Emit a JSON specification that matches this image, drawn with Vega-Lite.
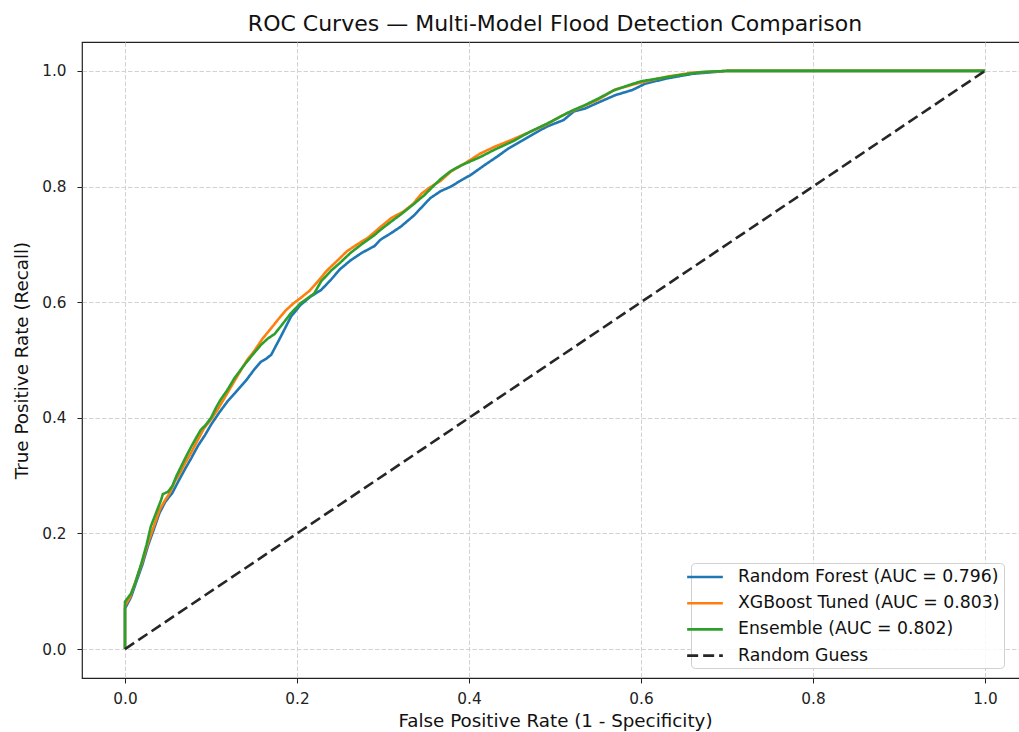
{
 "$schema": "https://vega.github.io/schema/vega-lite/v6.json",
 "autosize": {"type": "none"},
 "padding": {"left": 82, "top": 42, "right": 0, "bottom": 54},
 "width": 946,
 "height": 636,
 "background": "white",
 "title": {"text": "ROC Curves — Multi-Model Flood Detection Comparison", "fontSize": 22, "fontWeight": "normal", "font": "DejaVu Sans", "color": "#111", "frame": "group", "anchor": "middle", "offset": 6},
 "config": {
  "view": {"stroke": "#222", "strokeWidth": 1.2},
  "axis": {"domain": false, "grid": true, "gridColor": "#d2d2d2", "gridDash": [4.5, 2], "gridWidth": 1, "tickColor": "#222", "tickSize": 5, "labelFont": "DejaVu Sans", "labelFontSize": 15.3, "labelColor": "#222", "titleFont": "DejaVu Sans", "titleFontSize": 18.3, "titleFontWeight": "normal", "titleColor": "#111"},
  "axisX": {"labelPadding": 8, "titlePadding": 6},
  "axisY": {"labelPadding": 11, "titlePadding": 10},
  "legend": {"orient": "none", "legendX": 609, "legendY": 521, "fillColor": "rgba(255,255,255,0.85)", "strokeColor": "#d0d0d0", "cornerRadius": 4, "padding": 4, "labelFont": "DejaVu Sans", "labelFontSize": 17.3, "labelColor": "#111", "symbolType": "M-2.1,0H2.1", "symbolSize": 289, "symbolStrokeWidth": 2.6, "rowPadding": 7.2, "labelOffset": 23, "labelLimit": 400, "title": null}
 },
 "data": {"values": [
  {"model": "Random Forest (AUC = 0.796)", "fpr": 0, "tpr": 0},
  {"model": "Random Forest (AUC = 0.796)", "fpr": 0, "tpr": 0.07},
  {"model": "Random Forest (AUC = 0.796)", "fpr": 0.007, "tpr": 0.09},
  {"model": "Random Forest (AUC = 0.796)", "fpr": 0.014, "tpr": 0.12},
  {"model": "Random Forest (AUC = 0.796)", "fpr": 0.02, "tpr": 0.145},
  {"model": "Random Forest (AUC = 0.796)", "fpr": 0.027, "tpr": 0.18},
  {"model": "Random Forest (AUC = 0.796)", "fpr": 0.033, "tpr": 0.205},
  {"model": "Random Forest (AUC = 0.796)", "fpr": 0.04, "tpr": 0.235},
  {"model": "Random Forest (AUC = 0.796)", "fpr": 0.047, "tpr": 0.255},
  {"model": "Random Forest (AUC = 0.796)", "fpr": 0.055, "tpr": 0.27},
  {"model": "Random Forest (AUC = 0.796)", "fpr": 0.062, "tpr": 0.29},
  {"model": "Random Forest (AUC = 0.796)", "fpr": 0.07, "tpr": 0.312},
  {"model": "Random Forest (AUC = 0.796)", "fpr": 0.077, "tpr": 0.33},
  {"model": "Random Forest (AUC = 0.796)", "fpr": 0.085, "tpr": 0.352},
  {"model": "Random Forest (AUC = 0.796)", "fpr": 0.093, "tpr": 0.37},
  {"model": "Random Forest (AUC = 0.796)", "fpr": 0.1, "tpr": 0.388},
  {"model": "Random Forest (AUC = 0.796)", "fpr": 0.11, "tpr": 0.41},
  {"model": "Random Forest (AUC = 0.796)", "fpr": 0.12, "tpr": 0.43},
  {"model": "Random Forest (AUC = 0.796)", "fpr": 0.128, "tpr": 0.443},
  {"model": "Random Forest (AUC = 0.796)", "fpr": 0.135, "tpr": 0.455},
  {"model": "Random Forest (AUC = 0.796)", "fpr": 0.141, "tpr": 0.465},
  {"model": "Random Forest (AUC = 0.796)", "fpr": 0.15, "tpr": 0.483},
  {"model": "Random Forest (AUC = 0.796)", "fpr": 0.158, "tpr": 0.497},
  {"model": "Random Forest (AUC = 0.796)", "fpr": 0.164, "tpr": 0.502},
  {"model": "Random Forest (AUC = 0.796)", "fpr": 0.17, "tpr": 0.509},
  {"model": "Random Forest (AUC = 0.796)", "fpr": 0.181, "tpr": 0.54},
  {"model": "Random Forest (AUC = 0.796)", "fpr": 0.193, "tpr": 0.575},
  {"model": "Random Forest (AUC = 0.796)", "fpr": 0.204, "tpr": 0.595},
  {"model": "Random Forest (AUC = 0.796)", "fpr": 0.216, "tpr": 0.61},
  {"model": "Random Forest (AUC = 0.796)", "fpr": 0.228, "tpr": 0.621},
  {"model": "Random Forest (AUC = 0.796)", "fpr": 0.239, "tpr": 0.638},
  {"model": "Random Forest (AUC = 0.796)", "fpr": 0.25, "tpr": 0.657},
  {"model": "Random Forest (AUC = 0.796)", "fpr": 0.262, "tpr": 0.672},
  {"model": "Random Forest (AUC = 0.796)", "fpr": 0.275, "tpr": 0.685},
  {"model": "Random Forest (AUC = 0.796)", "fpr": 0.29, "tpr": 0.697},
  {"model": "Random Forest (AUC = 0.796)", "fpr": 0.297, "tpr": 0.708},
  {"model": "Random Forest (AUC = 0.796)", "fpr": 0.31, "tpr": 0.72},
  {"model": "Random Forest (AUC = 0.796)", "fpr": 0.321, "tpr": 0.731},
  {"model": "Random Forest (AUC = 0.796)", "fpr": 0.336, "tpr": 0.75},
  {"model": "Random Forest (AUC = 0.796)", "fpr": 0.355, "tpr": 0.78},
  {"model": "Random Forest (AUC = 0.796)", "fpr": 0.367, "tpr": 0.792},
  {"model": "Random Forest (AUC = 0.796)", "fpr": 0.379, "tpr": 0.8},
  {"model": "Random Forest (AUC = 0.796)", "fpr": 0.39, "tpr": 0.81},
  {"model": "Random Forest (AUC = 0.796)", "fpr": 0.402, "tpr": 0.82},
  {"model": "Random Forest (AUC = 0.796)", "fpr": 0.418, "tpr": 0.837},
  {"model": "Random Forest (AUC = 0.796)", "fpr": 0.433, "tpr": 0.852},
  {"model": "Random Forest (AUC = 0.796)", "fpr": 0.446, "tpr": 0.866},
  {"model": "Random Forest (AUC = 0.796)", "fpr": 0.46, "tpr": 0.878},
  {"model": "Random Forest (AUC = 0.796)", "fpr": 0.475, "tpr": 0.891},
  {"model": "Random Forest (AUC = 0.796)", "fpr": 0.491, "tpr": 0.904},
  {"model": "Random Forest (AUC = 0.796)", "fpr": 0.51, "tpr": 0.915},
  {"model": "Random Forest (AUC = 0.796)", "fpr": 0.522, "tpr": 0.93},
  {"model": "Random Forest (AUC = 0.796)", "fpr": 0.535, "tpr": 0.935},
  {"model": "Random Forest (AUC = 0.796)", "fpr": 0.55, "tpr": 0.945},
  {"model": "Random Forest (AUC = 0.796)", "fpr": 0.57, "tpr": 0.958},
  {"model": "Random Forest (AUC = 0.796)", "fpr": 0.59, "tpr": 0.967},
  {"model": "Random Forest (AUC = 0.796)", "fpr": 0.605, "tpr": 0.978},
  {"model": "Random Forest (AUC = 0.796)", "fpr": 0.63, "tpr": 0.987},
  {"model": "Random Forest (AUC = 0.796)", "fpr": 0.66, "tpr": 0.995},
  {"model": "Random Forest (AUC = 0.796)", "fpr": 0.7, "tpr": 1.0},
  {"model": "Random Forest (AUC = 0.796)", "fpr": 1.0, "tpr": 1.0},

  {"model": "XGBoost Tuned (AUC = 0.803)", "fpr": 0, "tpr": 0},
  {"model": "XGBoost Tuned (AUC = 0.803)", "fpr": 0, "tpr": 0.075},
  {"model": "XGBoost Tuned (AUC = 0.803)", "fpr": 0.006, "tpr": 0.09},
  {"model": "XGBoost Tuned (AUC = 0.803)", "fpr": 0.013, "tpr": 0.12},
  {"model": "XGBoost Tuned (AUC = 0.803)", "fpr": 0.02, "tpr": 0.15},
  {"model": "XGBoost Tuned (AUC = 0.803)", "fpr": 0.027, "tpr": 0.185},
  {"model": "XGBoost Tuned (AUC = 0.803)", "fpr": 0.033, "tpr": 0.21},
  {"model": "XGBoost Tuned (AUC = 0.803)", "fpr": 0.04, "tpr": 0.24},
  {"model": "XGBoost Tuned (AUC = 0.803)", "fpr": 0.046, "tpr": 0.256},
  {"model": "XGBoost Tuned (AUC = 0.803)", "fpr": 0.052, "tpr": 0.27},
  {"model": "XGBoost Tuned (AUC = 0.803)", "fpr": 0.058, "tpr": 0.29},
  {"model": "XGBoost Tuned (AUC = 0.803)", "fpr": 0.064, "tpr": 0.305},
  {"model": "XGBoost Tuned (AUC = 0.803)", "fpr": 0.07, "tpr": 0.322},
  {"model": "XGBoost Tuned (AUC = 0.803)", "fpr": 0.077, "tpr": 0.34},
  {"model": "XGBoost Tuned (AUC = 0.803)", "fpr": 0.084, "tpr": 0.36},
  {"model": "XGBoost Tuned (AUC = 0.803)", "fpr": 0.092, "tpr": 0.382},
  {"model": "XGBoost Tuned (AUC = 0.803)", "fpr": 0.1, "tpr": 0.397},
  {"model": "XGBoost Tuned (AUC = 0.803)", "fpr": 0.108, "tpr": 0.415},
  {"model": "XGBoost Tuned (AUC = 0.803)", "fpr": 0.116, "tpr": 0.435},
  {"model": "XGBoost Tuned (AUC = 0.803)", "fpr": 0.125, "tpr": 0.458},
  {"model": "XGBoost Tuned (AUC = 0.803)", "fpr": 0.133, "tpr": 0.478},
  {"model": "XGBoost Tuned (AUC = 0.803)", "fpr": 0.142, "tpr": 0.5},
  {"model": "XGBoost Tuned (AUC = 0.803)", "fpr": 0.15, "tpr": 0.515},
  {"model": "XGBoost Tuned (AUC = 0.803)", "fpr": 0.16, "tpr": 0.537},
  {"model": "XGBoost Tuned (AUC = 0.803)", "fpr": 0.17, "tpr": 0.555},
  {"model": "XGBoost Tuned (AUC = 0.803)", "fpr": 0.178, "tpr": 0.57},
  {"model": "XGBoost Tuned (AUC = 0.803)", "fpr": 0.187, "tpr": 0.586},
  {"model": "XGBoost Tuned (AUC = 0.803)", "fpr": 0.196, "tpr": 0.598},
  {"model": "XGBoost Tuned (AUC = 0.803)", "fpr": 0.204, "tpr": 0.607},
  {"model": "XGBoost Tuned (AUC = 0.803)", "fpr": 0.214, "tpr": 0.619},
  {"model": "XGBoost Tuned (AUC = 0.803)", "fpr": 0.222, "tpr": 0.632},
  {"model": "XGBoost Tuned (AUC = 0.803)", "fpr": 0.235, "tpr": 0.655},
  {"model": "XGBoost Tuned (AUC = 0.803)", "fpr": 0.247, "tpr": 0.672},
  {"model": "XGBoost Tuned (AUC = 0.803)", "fpr": 0.258, "tpr": 0.688},
  {"model": "XGBoost Tuned (AUC = 0.803)", "fpr": 0.27, "tpr": 0.7},
  {"model": "XGBoost Tuned (AUC = 0.803)", "fpr": 0.283, "tpr": 0.712},
  {"model": "XGBoost Tuned (AUC = 0.803)", "fpr": 0.297, "tpr": 0.73},
  {"model": "XGBoost Tuned (AUC = 0.803)", "fpr": 0.31, "tpr": 0.746},
  {"model": "XGBoost Tuned (AUC = 0.803)", "fpr": 0.323, "tpr": 0.756},
  {"model": "XGBoost Tuned (AUC = 0.803)", "fpr": 0.335, "tpr": 0.77},
  {"model": "XGBoost Tuned (AUC = 0.803)", "fpr": 0.345, "tpr": 0.788},
  {"model": "XGBoost Tuned (AUC = 0.803)", "fpr": 0.355, "tpr": 0.799},
  {"model": "XGBoost Tuned (AUC = 0.803)", "fpr": 0.367, "tpr": 0.81},
  {"model": "XGBoost Tuned (AUC = 0.803)", "fpr": 0.379, "tpr": 0.826},
  {"model": "XGBoost Tuned (AUC = 0.803)", "fpr": 0.395, "tpr": 0.84},
  {"model": "XGBoost Tuned (AUC = 0.803)", "fpr": 0.413, "tpr": 0.857},
  {"model": "XGBoost Tuned (AUC = 0.803)", "fpr": 0.43, "tpr": 0.869},
  {"model": "XGBoost Tuned (AUC = 0.803)", "fpr": 0.45, "tpr": 0.881},
  {"model": "XGBoost Tuned (AUC = 0.803)", "fpr": 0.47, "tpr": 0.894},
  {"model": "XGBoost Tuned (AUC = 0.803)", "fpr": 0.49, "tpr": 0.907},
  {"model": "XGBoost Tuned (AUC = 0.803)", "fpr": 0.51, "tpr": 0.924},
  {"model": "XGBoost Tuned (AUC = 0.803)", "fpr": 0.53, "tpr": 0.937},
  {"model": "XGBoost Tuned (AUC = 0.803)", "fpr": 0.55, "tpr": 0.95},
  {"model": "XGBoost Tuned (AUC = 0.803)", "fpr": 0.57, "tpr": 0.968},
  {"model": "XGBoost Tuned (AUC = 0.803)", "fpr": 0.6, "tpr": 0.98},
  {"model": "XGBoost Tuned (AUC = 0.803)", "fpr": 0.63, "tpr": 0.99},
  {"model": "XGBoost Tuned (AUC = 0.803)", "fpr": 0.66, "tpr": 0.997},
  {"model": "XGBoost Tuned (AUC = 0.803)", "fpr": 0.7, "tpr": 1.0},
  {"model": "XGBoost Tuned (AUC = 0.803)", "fpr": 1.0, "tpr": 1.0},

  {"model": "Ensemble (AUC = 0.802)", "fpr": 0, "tpr": 0},
  {"model": "Ensemble (AUC = 0.802)", "fpr": 0, "tpr": 0.082},
  {"model": "Ensemble (AUC = 0.802)", "fpr": 0.007, "tpr": 0.096},
  {"model": "Ensemble (AUC = 0.802)", "fpr": 0.012, "tpr": 0.115},
  {"model": "Ensemble (AUC = 0.802)", "fpr": 0.019, "tpr": 0.148},
  {"model": "Ensemble (AUC = 0.802)", "fpr": 0.025, "tpr": 0.18},
  {"model": "Ensemble (AUC = 0.802)", "fpr": 0.03, "tpr": 0.212},
  {"model": "Ensemble (AUC = 0.802)", "fpr": 0.036, "tpr": 0.235},
  {"model": "Ensemble (AUC = 0.802)", "fpr": 0.042, "tpr": 0.258},
  {"model": "Ensemble (AUC = 0.802)", "fpr": 0.044, "tpr": 0.268},
  {"model": "Ensemble (AUC = 0.802)", "fpr": 0.05, "tpr": 0.272},
  {"model": "Ensemble (AUC = 0.802)", "fpr": 0.055, "tpr": 0.282},
  {"model": "Ensemble (AUC = 0.802)", "fpr": 0.06, "tpr": 0.3},
  {"model": "Ensemble (AUC = 0.802)", "fpr": 0.065, "tpr": 0.315},
  {"model": "Ensemble (AUC = 0.802)", "fpr": 0.071, "tpr": 0.333},
  {"model": "Ensemble (AUC = 0.802)", "fpr": 0.077, "tpr": 0.35},
  {"model": "Ensemble (AUC = 0.802)", "fpr": 0.083, "tpr": 0.366},
  {"model": "Ensemble (AUC = 0.802)", "fpr": 0.088, "tpr": 0.379},
  {"model": "Ensemble (AUC = 0.802)", "fpr": 0.094, "tpr": 0.388},
  {"model": "Ensemble (AUC = 0.802)", "fpr": 0.1, "tpr": 0.4},
  {"model": "Ensemble (AUC = 0.802)", "fpr": 0.106, "tpr": 0.418},
  {"model": "Ensemble (AUC = 0.802)", "fpr": 0.111, "tpr": 0.431},
  {"model": "Ensemble (AUC = 0.802)", "fpr": 0.119, "tpr": 0.448},
  {"model": "Ensemble (AUC = 0.802)", "fpr": 0.127, "tpr": 0.468},
  {"model": "Ensemble (AUC = 0.802)", "fpr": 0.138, "tpr": 0.49},
  {"model": "Ensemble (AUC = 0.802)", "fpr": 0.15, "tpr": 0.512},
  {"model": "Ensemble (AUC = 0.802)", "fpr": 0.158, "tpr": 0.526},
  {"model": "Ensemble (AUC = 0.802)", "fpr": 0.166, "tpr": 0.537},
  {"model": "Ensemble (AUC = 0.802)", "fpr": 0.174, "tpr": 0.545},
  {"model": "Ensemble (AUC = 0.802)", "fpr": 0.181, "tpr": 0.558},
  {"model": "Ensemble (AUC = 0.802)", "fpr": 0.193, "tpr": 0.581},
  {"model": "Ensemble (AUC = 0.802)", "fpr": 0.204, "tpr": 0.598},
  {"model": "Ensemble (AUC = 0.802)", "fpr": 0.22, "tpr": 0.615},
  {"model": "Ensemble (AUC = 0.802)", "fpr": 0.228, "tpr": 0.636},
  {"model": "Ensemble (AUC = 0.802)", "fpr": 0.24, "tpr": 0.655},
  {"model": "Ensemble (AUC = 0.802)", "fpr": 0.25, "tpr": 0.668},
  {"model": "Ensemble (AUC = 0.802)", "fpr": 0.262, "tpr": 0.685},
  {"model": "Ensemble (AUC = 0.802)", "fpr": 0.275, "tpr": 0.7},
  {"model": "Ensemble (AUC = 0.802)", "fpr": 0.29, "tpr": 0.716},
  {"model": "Ensemble (AUC = 0.802)", "fpr": 0.297, "tpr": 0.725},
  {"model": "Ensemble (AUC = 0.802)", "fpr": 0.31, "tpr": 0.74},
  {"model": "Ensemble (AUC = 0.802)", "fpr": 0.321, "tpr": 0.752},
  {"model": "Ensemble (AUC = 0.802)", "fpr": 0.336, "tpr": 0.77},
  {"model": "Ensemble (AUC = 0.802)", "fpr": 0.348, "tpr": 0.785},
  {"model": "Ensemble (AUC = 0.802)", "fpr": 0.358, "tpr": 0.8},
  {"model": "Ensemble (AUC = 0.802)", "fpr": 0.367, "tpr": 0.813},
  {"model": "Ensemble (AUC = 0.802)", "fpr": 0.378, "tpr": 0.826},
  {"model": "Ensemble (AUC = 0.802)", "fpr": 0.39, "tpr": 0.836},
  {"model": "Ensemble (AUC = 0.802)", "fpr": 0.413, "tpr": 0.851},
  {"model": "Ensemble (AUC = 0.802)", "fpr": 0.43, "tpr": 0.864},
  {"model": "Ensemble (AUC = 0.802)", "fpr": 0.452, "tpr": 0.879},
  {"model": "Ensemble (AUC = 0.802)", "fpr": 0.47, "tpr": 0.894},
  {"model": "Ensemble (AUC = 0.802)", "fpr": 0.491, "tpr": 0.909},
  {"model": "Ensemble (AUC = 0.802)", "fpr": 0.518, "tpr": 0.93},
  {"model": "Ensemble (AUC = 0.802)", "fpr": 0.535, "tpr": 0.941},
  {"model": "Ensemble (AUC = 0.802)", "fpr": 0.55, "tpr": 0.952},
  {"model": "Ensemble (AUC = 0.802)", "fpr": 0.568, "tpr": 0.966},
  {"model": "Ensemble (AUC = 0.802)", "fpr": 0.585, "tpr": 0.975},
  {"model": "Ensemble (AUC = 0.802)", "fpr": 0.6, "tpr": 0.982},
  {"model": "Ensemble (AUC = 0.802)", "fpr": 0.625, "tpr": 0.988},
  {"model": "Ensemble (AUC = 0.802)", "fpr": 0.646, "tpr": 0.993},
  {"model": "Ensemble (AUC = 0.802)", "fpr": 0.67, "tpr": 0.998},
  {"model": "Ensemble (AUC = 0.802)", "fpr": 0.7, "tpr": 1.0},
  {"model": "Ensemble (AUC = 0.802)", "fpr": 1.0, "tpr": 1.0},

  {"model": "Random Guess", "fpr": 0, "tpr": 0},
  {"model": "Random Guess", "fpr": 1, "tpr": 1}
 ]},
 "mark": {"type": "line", "strokeWidth": 2.6},
 "encoding": {
  "x": {"field": "fpr", "type": "quantitative", "scale": {"domain": [-0.05, 1.05], "nice": false, "zero": false}, "axis": {"values": [0, 0.2, 0.4, 0.6, 0.8, 1.0], "format": ".1f", "title": "False Positive Rate (1 - Specificity)"}},
  "y": {"field": "tpr", "type": "quantitative", "scale": {"domain": [-0.05, 1.05], "nice": false, "zero": false}, "axis": {"values": [0, 0.2, 0.4, 0.6, 0.8, 1.0], "format": ".1f", "title": "True Positive Rate (Recall)"}},
  "color": {"field": "model", "type": "nominal", "scale": {"domain": ["Random Forest (AUC = 0.796)", "XGBoost Tuned (AUC = 0.803)", "Ensemble (AUC = 0.802)", "Random Guess"], "range": ["#1f77b4", "#ff7f0e", "#2ca02c", "#262626"]}, "legend": {"labelExpr": "datum.label + '\u2003\u2003'"}},
  "strokeDash": {"field": "model", "type": "nominal", "scale": {"domain": ["Random Forest (AUC = 0.796)", "XGBoost Tuned (AUC = 0.803)", "Ensemble (AUC = 0.802)", "Random Guess"], "range": [[1, 0], [1, 0], [1, 0], [11, 5]]}, "legend": {"labelExpr": "datum.label + '\u2003\u2003'"}},
  "order": [{"field": "fpr"}, {"field": "tpr"}]
 }
}
